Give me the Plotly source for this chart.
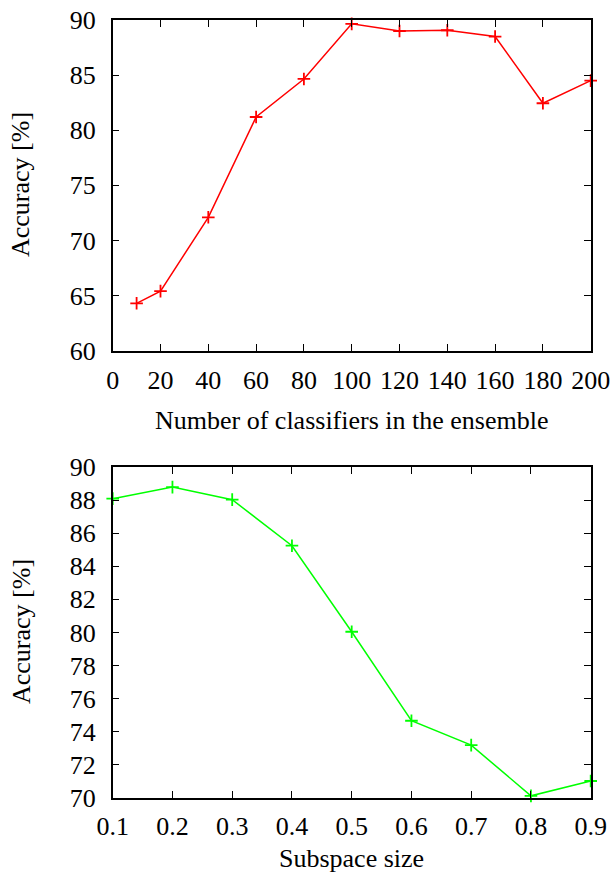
import plotly.graph_objects as go

# Top chart: number of classifiers vs accuracy
n_classifiers = [10, 20, 40, 60, 80, 100, 120, 140, 160, 180, 200]
acc_classifiers = [64.3, 65.4, 72.1, 81.2, 84.65, 89.65, 89.0, 89.07, 88.5, 82.45, 84.5]

# Bottom chart: subspace size vs accuracy
subspace = [0.1, 0.2, 0.3, 0.4, 0.5, 0.6, 0.7, 0.8, 0.9]
acc_subspace = [88.1, 88.8, 88.04, 85.25, 80.04, 74.65, 73.17, 70.1, 71.0]

top_xticks = [0, 20, 40, 60, 80, 100, 120, 140, 160, 180, 200]
top_yticks = [60, 65, 70, 75, 80, 85, 90]
bot_xticks = [0.1, 0.2, 0.3, 0.4, 0.5, 0.6, 0.7, 0.8, 0.9]
bot_yticks = [70, 72, 74, 76, 78, 80, 82, 84, 86, 88, 90]

FONT = "Liberation Serif"
W, H = 616, 880
FS = 26

fig = go.Figure()
fig.add_trace(go.Scatter(
    x=n_classifiers, y=acc_classifiers, mode="lines+markers",
    line=dict(color="#ff0000", width=1.5),
    marker=dict(symbol="cross-thin", size=9, line=dict(color="#ff0000", width=1.8)),
    xaxis="x", yaxis="y", showlegend=False, cliponaxis=False))
fig.add_trace(go.Scatter(
    x=subspace, y=acc_subspace, mode="lines+markers",
    line=dict(color="#00ff00", width=1.5),
    marker=dict(symbol="cross-thin", size=9, line=dict(color="#00ff00", width=1.8)),
    xaxis="x2", yaxis="y2", showlegend=False, cliponaxis=False))

xdom = [112.7 / W, 590.7 / W]
ydom_top = [(H - 350.7) / H, (H - 20) / H]
ydom_bot = [(H - 797.5) / H, (H - 467.3) / H]

axis_common = dict(
    showline=True, linecolor="black", linewidth=1.5, mirror="allticks",
    ticks="inside", ticklen=7, tickwidth=1, tickcolor="black",
    showgrid=False, zeroline=False, automargin=False,
    tickfont=dict(family=FONT, size=FS, color="black"),
)

fig.update_layout(
    width=W, height=H,
    margin=dict(l=0, r=0, t=0, b=0),
    paper_bgcolor="white", plot_bgcolor="white",
    font=dict(family=FONT, color="black"),
    xaxis=dict(domain=xdom, anchor="y", range=[0, 200], tickvals=top_xticks,
               ticklabelstandoff=5, **axis_common),
    yaxis=dict(domain=ydom_top, anchor="x", range=[60, 90], tickvals=top_yticks,
               ticklabelstandoff=10, **axis_common),
    xaxis2=dict(domain=xdom, anchor="y2", range=[0.1, 0.9], tickvals=bot_xticks,
                ticktext=[f"{v:.1f}" for v in bot_xticks],
                ticklabelstandoff=5, **axis_common),
    yaxis2=dict(domain=ydom_bot, anchor="x2", range=[70, 90], tickvals=bot_yticks,
                ticklabelstandoff=10, **axis_common),
)

titles = [
    ("Number of classifiers in the ensemble", 351.7 / W, 1 - 420 / H, 0),
    ("Subspace size", 351.7 / W, 1 - 858 / H, 0),
    ("Accuracy [%]", 21 / W, 1 - 185 / H, -90),
    ("Accuracy [%]", 21 / W, 1 - 632 / H, -90),
]
for text, x, y, ang in titles:
    fig.add_annotation(text=text, x=x, y=y, xref="paper", yref="paper",
                       xanchor="center", yanchor="middle", textangle=ang,
                       showarrow=False, font=dict(family=FONT, size=FS, color="black"))

fig.write_html("out.html")
